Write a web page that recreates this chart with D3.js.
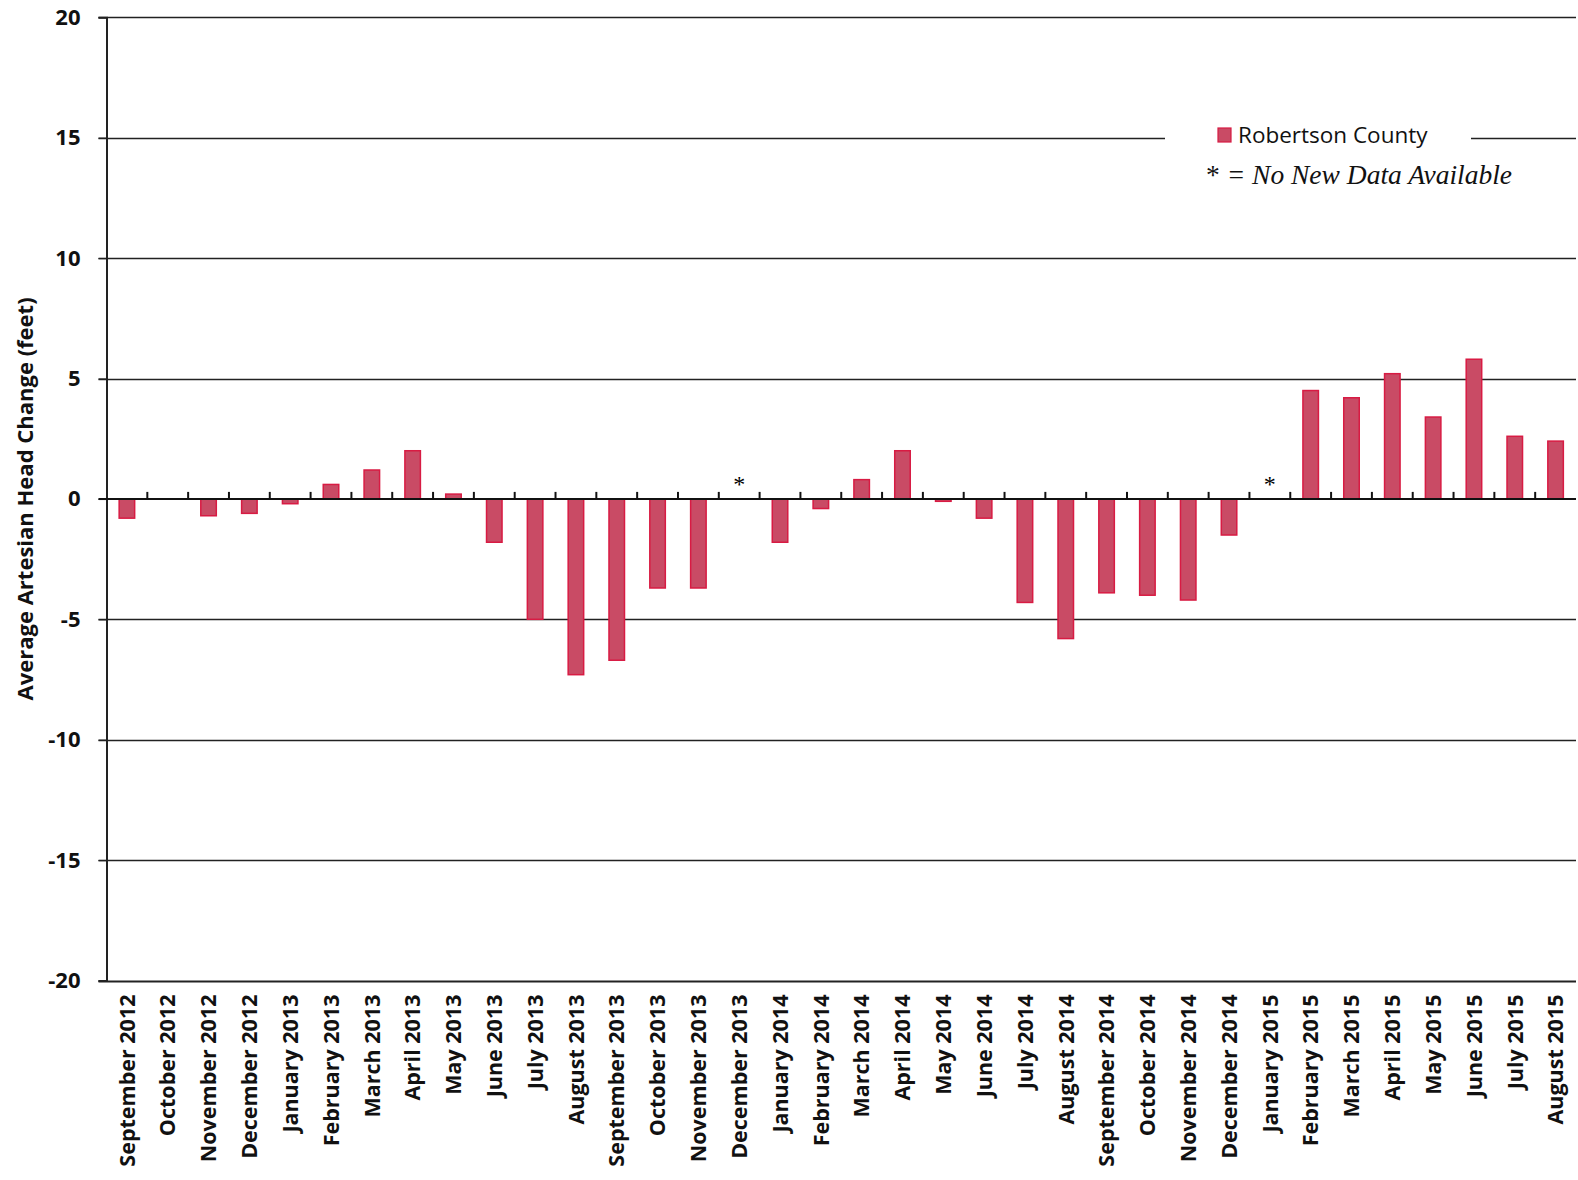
<!DOCTYPE html>
<html>
<head>
<meta charset="utf-8">
<script src="https://cdn.jsdelivr.net/npm/d3@7"></script>
<style>
  body { margin: 0; background: #fff; }
</style>
</head>
<body>
<svg id="chart" width="1578" height="1180"></svg>
<script>
(() => {

// data
const months = [
    'September 2012', 'October 2012', 'November 2012', 'December 2012',
    'January 2013', 'February 2013', 'March 2013', 'April 2013', 'May 2013',
    'June 2013', 'July 2013', 'August 2013', 'September 2013', 'October 2013',
    'November 2013', 'December 2013', 'January 2014', 'February 2014',
    'March 2014', 'April 2014', 'May 2014', 'June 2014', 'July 2014',
    'August 2014', 'September 2014', 'October 2014', 'November 2014',
    'December 2014', 'January 2015', 'February 2015', 'March 2015',
    'April 2015', 'May 2015', 'June 2015', 'July 2015', 'August 2015'
];

// null = no new data available (marked with *)
const head_change = [
    -0.8, 0, -0.7, -0.6,
    -0.2, 0.6, 1.2, 2.0, 0.2,
    -1.8, -5.0, -7.3, -6.7, -3.7,
    -3.7, null, -1.8, -0.4,
    0.8, 2.0, -0.1, -0.8, -4.3,
    -5.8, -3.9, -4.0, -4.2,
    -1.5, null, 4.5, 4.2,
    5.2, 3.4, 5.8, 2.6, 2.4
];

const y_ticks = [20, 15, 10, 5, 0, -5, -10, -15, -20];

const series_name = 'Robertson County';
const note_text = '= No New Data Available';
const y_title = 'Average Artesian Head Change (feet)';

// chart parameters
const left = 106.5;
const right = 1576;
const top = 17.3;
const bottom = 980.5;
const band_padding = 0.62;

const bar_fill = '#c94b65';
const bar_stroke = '#d81b43';
const label_font = "'Open Sans', 'DejaVu Sans', sans-serif";

let svg = d3.select('#chart');

let data = months.map((m, i) => ({month: m, value: head_change[i]}));

// scales
let x_scale = d3.scaleBand()
    .domain(months)
    .range([left, right])
    .paddingInner(band_padding)
    .paddingOuter(band_padding / 2);

let x_outer = d3.scaleBand()
    .domain(months)
    .range([left, right]);

let y_scale = d3.scaleLinear()
    .domain([-20, 20])
    .range([bottom, top]);

// gridlines (the 15 line is broken by the legend)
let grid = svg.append('g');
y_ticks.filter(t => t != 0).forEach(t => {
    let y = Math.round(y_scale(t)) + 0.5;
    if (t == 15) {
        grid.append('line')
            .attr('x1', left - 8).attr('x2', 1165)
            .attr('y1', y).attr('y2', y)
            .attr('stroke', '#222').attr('stroke-width', 1.3);
        grid.append('line')
            .attr('x1', 1471).attr('x2', right)
            .attr('y1', y).attr('y2', y)
            .attr('stroke', '#222').attr('stroke-width', 1.3);
    } else {
        grid.append('line')
            .attr('x1', left - 8).attr('x2', right)
            .attr('y1', y).attr('y2', y)
            .attr('stroke', '#222').attr('stroke-width', t == -20 ? 1.8 : 1.3);
    }
});

// y axis
let y_axis = d3.axisLeft(y_scale)
    .tickValues(y_ticks)
    .tickFormat(d => String(d))
    .tickSize(8)
    .tickPadding(18);

svg.append('g')
    .attr('transform', `translate(${left}, 0)`)
    .call(y_axis)
    .call(g => g.select('.domain').attr('stroke', '#222').attr('stroke-width', 2))
    .call(g => g.selectAll('.tick line').attr('stroke', '#222').attr('stroke-width', 1.3))
    .selectAll('text')
    .style('font-family', label_font)
    .style('font-weight', 'bold')
    .style('font-size', '22px')
    .attr('fill', '#111');

// y axis title
svg.append('text')
    .attr('transform', `translate(33, ${(top + bottom) / 2}) rotate(-90)`)
    .attr('text-anchor', 'middle')
    .style('font-family', label_font)
    .style('font-weight', 'bold')
    .style('font-size', '22px')
    .attr('fill', '#111')
    .text(y_title);

// bars
svg.append('g')
    .selectAll('rect')
    .data(data.filter(d => d.value != null && d.value != 0))
    .enter()
    .append('rect')
    .attr('x', d => x_scale(d.month))
    .attr('width', x_scale.bandwidth())
    .attr('y', d => y_scale(Math.max(0, d.value)))
    .attr('height', d => Math.abs(y_scale(d.value) - y_scale(0)))
    .attr('fill', bar_fill)
    .attr('stroke', bar_stroke)
    .attr('stroke-width', 1.5);

// zero axis with small upward ticks between months
let y0 = y_scale(0);
let zero_g = svg.append('g')
    .attr('transform', `translate(0, ${y0})`);
zero_g.append('line')
    .attr('x1', left - 8).attr('x2', right)
    .attr('y1', 0).attr('y2', 0)
    .attr('stroke', '#111').attr('stroke-width', 2);
zero_g.selectAll('.sep')
    .data(months.slice(1))
    .enter()
    .append('line')
    .attr('x1', d => x_outer(d))
    .attr('x2', d => x_outer(d))
    .attr('y1', -7)
    .attr('y2', 0)
    .attr('stroke', '#111')
    .attr('stroke-width', 2);

// asterisks for months without new data
svg.append('g')
    .selectAll('text')
    .data(data.filter(d => d.value == null))
    .enter()
    .append('text')
    .attr('x', d => x_outer(d.month) + x_outer.bandwidth() / 2)
    .attr('y', y0 - 7)
    .attr('text-anchor', 'middle')
    .style('font-family', "'Liberation Serif', serif")
    .style('font-size', '24px')
    .text('*');

// x axis labels
let x_axis = d3.axisBottom(x_outer)
    .tickSize(0)
    .tickPadding(0);

svg.append('g')
    .attr('transform', `translate(0, ${bottom})`)
    .call(x_axis)
    .call(g => g.select('.domain').remove())
    .selectAll('text')
    .attr('transform', 'rotate(-90)')
    .attr('text-anchor', 'end')
    .attr('x', -14)
    .attr('y', 0)
    .attr('dy', '0.36em')
    .style('font-family', label_font)
    .style('font-weight', 'bold')
    .style('font-size', '21.5px')
    .attr('fill', '#111');

// legend
svg.append('rect')
    .attr('x', 1218).attr('y', 128)
    .attr('width', 13).attr('height', 14)
    .attr('fill', bar_fill)
    .attr('stroke', bar_stroke)
    .attr('stroke-width', 1.2);

svg.append('text')
    .attr('x', 1238).attr('y', 143)
    .style('font-family', label_font)
    .style('font-size', '22.5px')
    .attr('fill', '#111')
    .text(series_name);

let note = svg.append('text')
    .attr('x', 1206).attr('y', 184)
    .style('font-family', "'Liberation Serif', serif")
    .style('font-size', '27.5px')
    .attr('fill', '#111');
note.append('tspan').text('* ');
note.append('tspan').style('font-style', 'italic').text(note_text);

})();
</script>
</body>
</html>
